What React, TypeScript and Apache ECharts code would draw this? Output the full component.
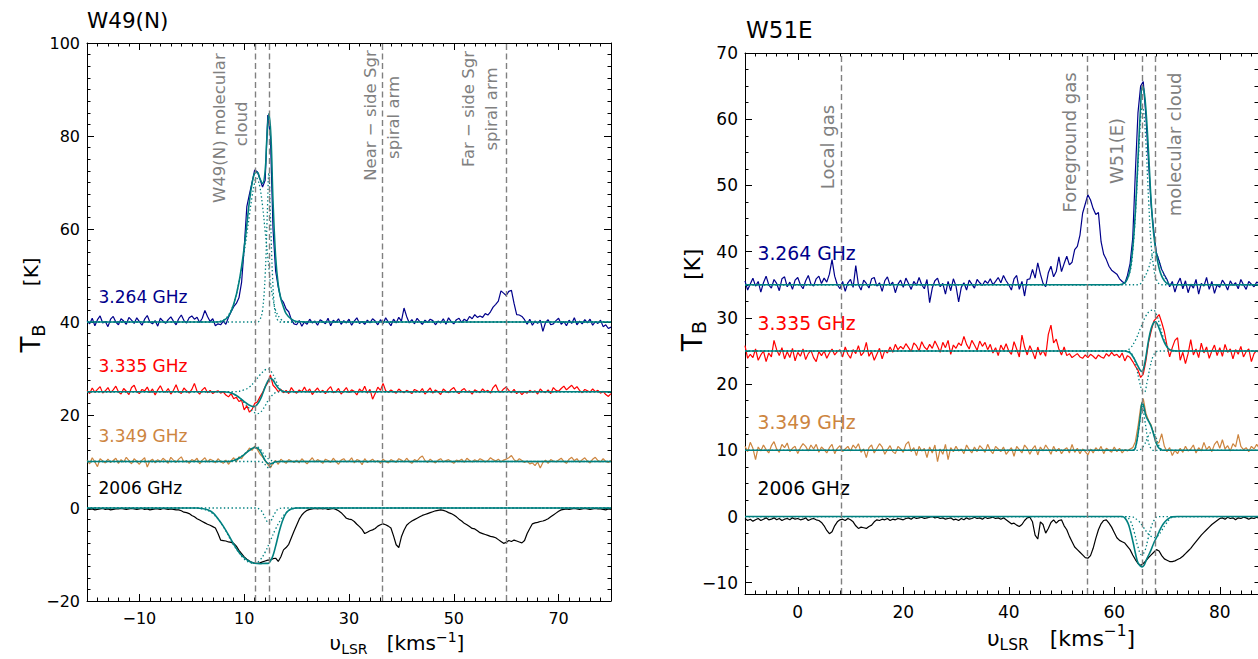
import React, { useEffect, useRef } from 'react';
import * as echarts from 'echarts';

const FONT = 'DejaVu Sans, sans-serif';
const C264 = '#00008b';
const C335 = '#ff0000';
const C349 = '#cd853f';
const C2006 = '#000000';
const TEAL = '#008080';
const GRAY = '#808080';

// ---------------- W49(N) panel ----------------
const W49_V_START = -20;
const W49_V_STEP = 0.5;
const w49_3264 = [
  40.3, 39.6, 40.8, 39.2, 40.5, 41.3, 39.8, 40.1, 39.0, 40.6,
  41.2, 40.0, 39.4, 40.7, 40.2, 39.5, 41.0, 40.4, 39.7, 40.9,
  40.1, 39.3, 40.6, 41.4, 40.0, 39.6, 40.3, 39.1, 40.8, 40.2,
  39.7, 40.5, 41.1, 40.2, 39.4, 40.7, 41.5, 40.3, 39.8, 40.9,
  41.3, 40.6, 41.0, 39.9, 40.8, 42.5, 41.2, 40.1, 40.7, 39.2,
  39.6, 39.4, 40.2, 39.5, 41.0, 42.2, 43.3, 44.0, 45.2, 48.5,
  56.0, 64.8, 67.5, 70.0, 72.7, 72.3, 70.8, 69.0, 70.5, 84.5,
  80.0, 60.0, 51.0, 47.5, 45.0, 44.2, 42.8, 42.2, 40.5, 39.6,
  39.4, 40.3, 39.1, 40.0, 39.5, 40.6, 39.8, 40.2, 39.3, 40.5,
  40.1, 39.6, 40.8, 39.2, 40.4, 39.9, 40.7, 39.5, 40.3, 39.8,
  40.6, 39.3, 40.2, 40.9, 39.7, 40.1, 39.5, 40.4, 39.8, 40.7,
  40.2, 39.4, 40.5, 39.6, 40.9, 40.0, 39.2, 40.6, 39.8, 41.0,
  40.2, 43.0, 41.2, 39.8, 40.5, 39.6, 40.8, 40.1, 39.5, 40.4,
  39.9, 40.6, 40.3, 39.4, 40.2, 39.8, 40.7, 39.5, 40.9, 40.1,
  39.6, 40.5, 40.8, 39.9, 40.6, 40.2, 41.2, 40.7, 41.6, 41.0,
  41.3, 41.0, 41.8, 41.5, 42.2, 43.2, 43.8, 44.5, 46.7, 46.2,
  45.7, 46.6, 46.8, 44.0, 41.6, 41.5, 41.2, 40.5, 39.5, 40.6,
  39.3, 40.2, 39.7, 40.4, 38.0, 39.9, 40.5, 39.4, 39.6, 40.3,
  40.8, 39.5, 40.1, 39.2, 40.4, 39.7, 40.9, 39.4, 40.2, 39.6,
  40.5, 39.8, 40.6, 39.3, 40.1, 39.7, 40.4, 39.0, 39.4, 38.6,
  38.9,
];
const w49_3335 = [
  25.3, 24.6, 25.8, 24.9, 25.5, 26.1, 24.7, 25.2, 25.9, 24.8,
  25.4, 26.2, 25.0, 24.5, 25.7, 25.1, 24.4, 25.9, 26.4, 25.0,
  24.6, 25.5, 25.2, 26.0, 24.8, 25.6, 24.3, 25.4, 26.3, 25.1,
  24.9, 25.7, 24.5, 25.3, 26.5, 25.0, 24.6, 25.8, 25.2, 24.7,
  25.5, 26.8, 25.1, 24.5, 25.4, 25.9, 24.8, 25.3, 24.6, 25.0,
  25.2, 24.7, 25.0, 24.3, 23.9, 24.6, 23.5, 23.8, 22.9, 23.2,
  21.1, 22.0, 20.6, 21.2, 22.5, 22.8, 23.9, 24.8, 26.1, 26.9,
  28.6, 26.4, 25.8, 25.0, 25.5, 24.8, 25.3, 24.6, 25.9, 25.1,
  24.7, 25.4, 25.0, 26.0, 24.9, 25.6, 24.4, 25.2, 25.8, 24.9,
  25.3, 24.6, 25.5, 26.1, 24.8, 25.0, 25.7, 24.5, 25.2, 25.9,
  24.8, 25.4, 25.1, 24.3, 25.6, 25.0, 26.2, 24.7, 25.5, 23.4,
  24.6, 26.0, 25.3, 26.8, 25.2, 24.9, 25.4, 25.0, 24.7, 25.6,
  25.1, 24.8, 25.3, 25.0, 24.6, 25.5, 25.2, 24.9, 25.7, 24.5,
  25.2, 25.8, 24.7, 25.4, 25.0, 24.4, 25.6, 25.1, 24.8, 25.5,
  25.9, 25.0, 24.6, 25.3, 25.7, 24.9, 25.2, 24.5, 25.4, 25.1,
  24.8, 25.6, 25.0, 25.3, 24.7, 25.9, 26.5, 25.2, 24.9, 25.6,
  26.0, 25.3, 24.8, 25.5, 24.6, 25.1, 24.4, 25.0, 24.7, 25.3,
  24.9, 25.2, 24.5, 25.6, 25.0, 24.8, 25.4, 24.6, 25.9, 25.3,
  25.1, 25.7, 26.2, 25.4, 25.9, 26.4, 25.6, 26.1, 25.3, 24.8,
  25.5, 25.2, 24.9, 25.6, 25.0, 25.3, 24.7, 25.1, 24.4, 24.0,
  24.6,
];
const w49_3349 = [
  10.3, 9.5, 10.8, 9.9, 8.9, 10.6, 10.1, 9.7, 10.5, 9.8,
  10.2, 10.7, 9.6, 10.4, 9.9, 10.9, 10.2, 9.5, 10.6, 10.0,
  9.4, 10.3, 10.8, 8.8, 10.1, 10.5, 9.7, 10.4, 9.9, 10.7,
  10.2, 9.6, 10.9, 10.3, 9.8, 10.5, 11.0, 9.9, 10.2, 9.6,
  10.4, 10.1, 10.7, 9.5, 10.3, 10.8, 9.9, 10.5, 10.2, 9.7,
  10.6, 10.0, 9.6, 10.3, 9.4, 10.2, 10.8, 9.9, 11.0, 10.6,
  11.5, 12.0, 12.9, 12.4, 13.3, 12.6, 11.6, 11.0, 10.2, 9.4,
  8.6, 9.7, 10.2, 9.4, 10.5, 10.0, 9.6, 10.4, 10.1, 9.8,
  10.3, 9.7, 10.6, 10.0, 9.5, 10.2, 10.8, 9.9, 10.4, 10.1,
  9.6, 10.5, 10.2, 9.8, 10.7, 10.0, 9.4, 10.3, 10.6, 9.9,
  10.1, 10.8, 9.7, 10.4, 10.2, 9.3, 10.6, 9.8, 10.1, 10.5,
  9.9, 10.2, 9.6, 10.5, 10.0, 9.7, 10.4, 10.1, 9.8, 10.6,
  10.3, 9.9, 10.7, 10.0, 9.6, 10.4, 10.1, 10.8, 11.2, 10.2,
  9.8, 10.5, 10.0, 9.7, 10.3, 10.6, 9.9, 10.2, 10.4, 10.0,
  9.6, 10.3, 10.1, 10.5, 9.8, 10.7, 10.2, 9.9, 10.4, 10.0,
  10.6, 10.3, 9.9, 10.2, 10.8, 10.4, 10.1, 10.5, 9.9, 10.3,
  10.5, 10.8, 11.3, 10.4, 10.0, 10.6, 10.2, 9.8, 10.1, 9.5,
  9.7, 9.1, 9.9, 8.6, 9.8, 10.3, 9.6, 10.4, 10.1, 9.9,
  10.3, 10.7, 10.0, 9.6, 10.5, 10.9, 10.2, 10.6, 9.8, 10.4,
  10.8, 10.1, 9.7, 10.5, 10.9, 10.2, 9.9, 10.6, 10.0, 9.8,
  10.3,
];
const w49_2006 = [
  -0.2, -0.3, -0.2, -0.4, -0.3, -0.2, -0.1, -0.3, -0.2, -0.4,
  -0.3, -0.2, -0.2, -0.1, -0.2, -0.3, -0.2, -0.1, -0.2, -0.3,
  -0.2, -0.1, -0.3, -0.2, -0.4, -0.3, -0.2, -0.2, -0.3, -0.1,
  -0.2, -0.3, -0.2, -0.3, -0.4, -0.4, -0.6, -0.9, -1.0, -1.2,
  -1.6, -1.9, -2.3, -2.6, -2.9, -3.2, -3.5, -3.7, -4.0, -4.3,
  -5.5, -6.9, -7.0, -7.1, -7.3, -7.4, -7.6, -8.2, -9.1, -9.8,
  -10.5, -11.0, -11.4, -11.7, -11.9, -11.9, -11.8, -11.6, -11.4, -11.2,
  -11.2, -10.9, -10.8, -11.5, -10.5, -9.0, -8.5, -7.8, -6.4, -5.0,
  -3.7, -2.4, -1.5, -0.9, -0.5, -0.3, -0.2, -0.1, -0.2, -0.1,
  -0.2, -0.1, -0.3, -0.2, -0.1, -0.3, -0.6, -1.0, -1.6, -2.2,
  -2.4, -2.5, -2.9, -3.5, -4.0, -4.6, -5.5, -5.2, -4.9, -4.7,
  -4.4, -3.9, -3.6, -3.4, -3.6, -3.9, -4.3, -6.0, -7.9, -8.5,
  -6.2, -4.8, -3.7, -3.2, -2.8, -2.5, -2.2, -1.9, -1.6, -1.4,
  -1.2, -1.0, -0.8, -0.6, -0.5, -0.4, -0.5, -0.7, -1.0, -1.2,
  -1.5, -1.9, -2.4, -2.8, -3.3, -3.6, -4.0, -4.4, -4.5, -4.9,
  -5.3, -5.5, -5.7, -5.9, -6.1, -6.2, -6.4, -6.8, -7.2, -7.6,
  -7.4, -7.0, -7.2, -6.9, -7.1, -7.3, -7.5, -7.0, -5.5, -4.4,
  -3.4, -3.2, -3.1, -2.9, -2.8, -2.6, -2.3, -1.9, -1.5, -1.1,
  -0.7, -0.4, -0.3, -0.2, -0.3, -0.2, -0.1, -0.2, -0.3, -0.2,
  -0.1, -0.2, -0.3, -0.2, -0.1, -0.2, -0.2, -0.3, -0.4, -0.2,
  -0.3,
];
// fitted profiles [v, T]
const w49Fit3264 = [[-20, 40], [5, 40], [6, 40.3], [7, 41.2], [8, 43.8], [9, 48.5], [10, 56], [11, 66], [11.5, 69.8], [12, 72], [12.5, 72.2], [13, 70.8], [13.5, 69.8], [14, 72.5], [14.3, 79], [14.7, 84.8], [15.1, 80], [15.5, 66], [16, 54], [16.5, 48], [17, 45], [17.5, 43.2], [18, 41.8], [19, 40.6], [20, 40.1], [22, 40], [80, 40]];
const w49Comp3264a = [[-20, 40], [4, 40], [6, 40.4], [7, 41.5], [8, 44], [9, 48.5], [10, 55], [11, 63], [11.5, 67], [12, 70], [12.3, 71], [12.6, 70.6], [13, 69], [13.5, 65], [14, 59.5], [14.5, 54], [15, 48.5], [15.5, 45], [16, 42.5], [17, 40.6], [18, 40], [80, 40]];
const w49Comp3264b = [[-20, 40], [12.5, 40], [13, 40.5], [13.5, 42.5], [14, 50], [14.4, 63], [14.7, 72], [15, 63], [15.4, 50], [15.8, 43], [16.3, 40.6], [17, 40], [80, 40]];
const w49Fit3335 = [[-20, 25], [6, 25], [7, 24.9], [8, 24.5], [9, 23.8], [10, 22.9], [11, 22.1], [11.8, 21.8], [12.5, 22.3], [13, 23.2], [13.5, 24.5], [14, 26], [14.5, 27.3], [15, 27.9], [15.5, 27.5], [16, 26.6], [16.5, 25.8], [17, 25.3], [17.5, 25.05], [18, 25], [80, 25]];
const w49Comp3335a = [[-20, 25], [8, 25], [10, 25.4], [11, 26], [12, 27.2], [13, 28.6], [14, 29.7], [14.6, 29.9], [15.2, 29.3], [16, 27.5], [16.5, 26.2], [17, 25.4], [17.5, 25.1], [18, 25], [80, 25]];
const w49Comp3335b = [[-20, 25], [7, 25], [8, 24.5], [9, 23.8], [10, 22.6], [11, 21.4], [12, 20.5], [12.5, 20.3], [13, 20.5], [13.5, 21.1], [14, 22], [14.5, 23], [15, 23.8], [15.5, 24.4], [16, 24.8], [17, 25], [80, 25]];
const w49Fit3349 = [[-20, 10], [7, 10], [8, 10.2], [9, 10.7], [10, 11.5], [11, 12.4], [12, 13.0], [12.5, 12.9], [13, 12.3], [13.5, 11.3], [14, 10.2], [14.5, 9.6], [15, 9.5], [15.5, 9.7], [16, 9.95], [17, 10], [80, 10]];
const w49Comp3349a = [[-20, 10], [7, 10], [8, 10.3], [9, 10.8], [10, 11.6], [11, 12.5], [12, 13.1], [12.6, 13.1], [13.2, 12.5], [14, 11.2], [15, 10.3], [16, 10], [80, 10]];
const w49Comp3349b = [[-20, 10], [13, 10], [13.6, 9.8], [14.2, 9.1], [14.7, 8.6], [15.2, 9.1], [15.8, 9.8], [16.4, 10], [80, 10]];
const w49Fit2006 = [[-20, 0], [1, 0], [2, -0.1], [3, -0.4], [4, -1], [5, -2.3], [6, -3.9], [7, -5.8], [8, -7.8], [9, -9.5], [10, -10.7], [11, -11.5], [12, -11.9], [13, -12], [14, -11.9], [14.6, -11.9], [15, -11.4], [15.5, -10.2], [16, -8.2], [16.5, -5.9], [17, -3.8], [17.5, -2.2], [18, -1.1], [18.5, -0.5], [19, -0.2], [20, 0], [80, 0]];
const w49Comp2006a = [[-20, 0], [0, 0], [2, -0.2], [4, -1.2], [6, -4], [8, -8], [10, -11], [11, -11.7], [12, -11.9], [13, -11.2], [14, -9.5], [15, -7], [16, -4.5], [17, -2.5], [18, -1], [19, -0.3], [20, 0], [80, 0]];
const w49Comp2006b = [[-20, 0], [12, 0], [13, -0.3], [13.6, -1.2], [14.2, -2.6], [14.7, -3.3], [15.2, -2.6], [15.8, -1.2], [16.4, -0.3], [17.5, 0], [80, 0]];
const w49Markers = [12.05, 14.7, 36.4, 60];
const w49XMajor = [-10, 10, 30, 50, 70];
const w49YMajor = [-20, 0, 20, 40, 60, 80, 100];
const w49Notes = [
  { text: 'W49(N) molecular', v: 5.35, t: 81.7 },
  { text: 'cloud', v: 9.4, t: 82.6 },
  { text: 'Near \u2212 side Sgr', v: 34.1, t: 84.4 },
  { text: 'spiral arm', v: 38.45, t: 84.0 },
  { text: 'Far \u2212 side Sgr', v: 52.8, t: 85.8 },
  { text: 'spiral arm', v: 57.2, t: 85.8 },
];
const w49Labels = [
  { text: '3.264 GHz', color: C264, v: -17.8, t: 45.4 },
  { text: '3.335 GHz', color: C335, v: -17.8, t: 30.5 },
  { text: '3.349 GHz', color: C349, v: -17.8, t: 15.5 },
  { text: '2006 GHz', color: C2006, v: -17.8, t: 4.2 },
];

// ---------------- W51E panel ----------------
const W51_V_START = -10;
const W51_V_STEP = 0.5;
const w51_3264 = [
  35.6, 34.2, 35.1, 36.0, 34.8, 35.5, 33.9, 35.3, 36.3, 35.0,
  34.5, 35.8, 35.2, 34.1, 35.9, 36.2, 34.7, 35.4, 34.3, 35.7,
  36.1, 35.0, 34.4, 35.6, 36.4, 35.1, 34.8, 35.9, 36.3, 35.2,
  36.0, 35.4, 36.6, 38.8, 36.3, 35.0, 34.4, 35.5, 34.0, 35.3,
  35.8, 34.6, 37.9, 35.0, 34.2, 35.7, 35.2, 34.5, 35.9, 36.1,
  34.8, 35.3, 34.0, 35.6, 36.2, 34.9, 35.4, 33.8, 35.1, 35.7,
  34.6, 36.0, 35.2, 34.3, 35.5, 34.9, 36.1, 35.0, 34.4, 35.8,
  32.3, 34.5, 35.6, 36.0, 34.7, 35.2, 33.6, 35.5, 34.1, 35.9,
  34.8, 32.4, 34.6, 35.3, 34.2, 35.7, 35.1, 34.5, 35.8, 35.3,
  34.9, 35.6, 35.2, 35.9, 35.0, 35.5, 36.1, 35.3, 36.4, 35.6,
  35.0, 34.2, 35.9, 36.4, 34.3, 35.5, 33.3, 35.8, 35.9, 37.3,
  36.0, 38.3, 36.6, 35.2, 34.7, 36.8, 37.8, 36.2, 37.0, 39.2,
  37.0, 38.2, 39.3, 38.0, 38.4, 40.3, 40.8, 42.5, 45.8, 47.2,
  48.6, 47.8, 46.5, 45.6, 45.9, 41.5, 39.6, 38.8, 37.8, 37.2,
  36.9, 36.6, 35.9, 35.5, 35.2, 36.4, 38.2, 42.0, 52.0, 61.0,
  65.0, 65.7, 60.5, 53.5, 47.0, 43.0, 39.8, 38.6, 37.3, 36.5,
  35.8, 34.7, 35.5, 33.9, 35.2, 36.0, 34.4, 35.6, 33.8, 35.1,
  34.5, 35.8, 33.6, 35.2, 34.8, 36.1, 34.3, 35.5, 33.7, 35.0,
  34.6, 35.7, 35.1, 34.2, 35.6, 34.9, 35.3, 34.4, 35.8, 35.0,
  34.3, 35.5, 35.1, 34.7, 35.4, 35.2,
];
const w51_3335 = [
  25.8, 23.9, 24.5, 24.0, 25.3, 23.6, 24.4, 25.0, 23.4, 24.7,
  24.1, 26.6, 25.2, 24.3, 25.5, 23.8, 24.9, 24.0, 25.4, 23.5,
  24.8, 24.2, 25.3, 23.7, 24.6, 25.1, 24.0, 23.4, 24.9, 24.3,
  25.0, 23.9, 24.7, 25.3, 24.4, 24.9, 25.2, 24.1, 25.6, 24.5,
  23.9, 25.2, 24.6, 25.8, 24.3, 24.8, 26.3, 24.2, 24.9, 23.6,
  24.5, 25.4, 23.8, 25.1, 24.7, 25.6, 24.8, 26.0, 25.2, 25.7,
  25.3, 26.1, 25.5, 24.9, 26.2, 25.8, 25.0, 26.4, 25.6, 25.2,
  26.0, 25.4, 26.5, 25.7, 24.8, 26.3, 25.5, 26.6, 24.5, 25.9,
  25.4, 26.2, 25.8, 27.2, 26.0, 25.3, 26.6, 25.9, 25.1, 26.5,
  25.7, 26.3, 25.2, 26.0, 24.7, 25.5, 24.3, 25.9, 25.1, 26.1,
  25.0, 24.5, 26.4, 25.3, 24.1, 27.4, 25.6, 24.4, 25.8, 24.9,
  23.8, 25.6, 24.4, 25.1, 24.2, 27.5, 28.9, 26.2, 26.8, 25.3,
  24.4, 25.6, 24.3, 24.6, 24.0, 24.3, 24.6, 24.1, 23.9, 24.4,
  24.0, 24.5, 24.2, 23.8, 24.4, 24.1, 23.9, 24.6, 24.2, 24.8,
  24.3, 24.5, 24.0, 24.7, 23.5, 24.3, 24.0, 23.4, 22.7, 22.1,
  21.0, 21.5, 23.5, 26.3, 28.0, 29.5, 30.0, 30.5, 29.3, 27.9,
  25.8, 24.1, 25.5, 26.6, 27.0, 23.6, 24.8, 23.1, 24.6, 26.7,
  24.4, 25.3, 24.0, 26.2, 24.7, 25.6, 23.9, 25.0, 25.9, 24.3,
  25.5, 24.2, 26.0, 24.8, 25.3, 23.8, 25.2, 24.5, 25.7, 24.1,
  24.9, 25.3, 23.4, 24.6, 25.1, 24.7,
];
const w51_3349 = [
  10.6, 9.8, 11.2, 10.3, 8.6, 10.5, 9.9, 10.8, 10.1, 9.6,
  10.7, 11.3, 10.2, 9.7, 10.9, 10.4, 11.1, 9.8, 10.3, 10.6,
  9.5, 10.4, 11.0, 10.6, 9.9, 10.8, 10.2, 10.9, 9.7, 10.5,
  10.1, 9.6, 10.4, 10.9, 9.5, 10.3, 10.7, 9.8, 10.2, 10.6,
  9.9, 10.8, 10.3, 11.0, 9.7, 10.2, 8.9, 10.4, 10.8, 9.6,
  10.3, 11.0, 10.5, 9.4, 10.1, 10.7, 9.8, 9.5, 10.6, 10.2,
  9.7, 10.9, 11.3, 9.8, 10.4, 9.2, 10.6, 9.9, 10.3, 8.9,
  10.5, 9.6, 10.8, 8.3, 10.2, 9.4, 10.9, 8.6, 10.4, 9.8,
  10.6, 9.9, 10.2, 9.5, 10.8, 10.1, 9.6, 10.5, 9.8, 10.7,
  10.3, 9.7, 10.9, 10.0, 9.5, 10.6, 10.2, 9.8, 10.5, 9.4,
  9.9, 10.4, 9.1, 10.6, 10.1, 9.6, 10.8, 10.3, 9.4, 10.2,
  10.7, 9.3, 10.5, 9.9, 10.8, 10.2, 9.4, 10.6, 9.8, 10.3,
  9.5, 10.1, 10.4, 9.6, 10.9, 9.7, 10.3, 9.5, 10.2, 9.8,
  9.3, 10.2, 9.6, 10.4, 9.9, 10.6, 9.5, 10.3, 10.0, 9.7,
  10.5, 9.8, 10.3, 9.6, 10.1, 9.9, 10.2, 10.4, 11.3, 13.6,
  16.5, 17.8, 15.6, 14.5, 13.8, 12.4, 11.0, 11.2, 12.5, 10.6,
  9.8, 10.4, 9.2, 10.0, 9.5, 10.3, 9.7, 10.6, 9.9, 10.2,
  10.8, 9.6, 10.4, 9.9, 11.2, 10.1, 10.6, 9.8, 10.9, 11.4,
  10.3, 11.6, 10.2, 10.7, 9.9, 11.0, 10.5, 12.4, 10.6, 10.1,
  10.4, 9.8, 10.6, 10.2, 10.9, 10.3,
];
const w51_2006 = [
  -0.3, -0.6, -0.4, -0.7, -0.5, -0.3, -0.6, -0.4, -0.2, -0.5,
  -0.4, -0.2, -0.5, -0.3, -0.6, -0.4, -0.3, -0.5, -0.2, -0.4,
  -0.3, -0.5, -0.4, -0.2, -0.6, -0.4, -0.3, -0.5, -0.6, -0.9,
  -1.4, -2.1, -2.6, -2.3, -1.4, -0.8, -0.5, -0.4, -0.6, -0.3,
  -0.5, -0.8, -1.4, -1.8, -1.6, -1.7, -1.8, -1.5, -1.3, -0.8,
  -0.5, -0.6, -0.4, -0.5, -0.3, -0.6, -0.4, -0.5, -0.3, -0.4,
  -0.5, -0.3, -0.2, -0.4, -0.1, -0.3, -0.2, -0.1, -0.3, -0.2,
  -0.1, 0.0, -0.2, -0.1, -0.3, -0.2, -0.4, -0.3, -0.2, -0.5,
  -0.4, -0.6, -0.3, -0.5, -0.2, -0.4, -0.3, -0.1, -0.3, -0.2,
  -0.4, -0.1, -0.3, -0.2, -0.1, -0.3, -0.2, -0.4, -0.2, -0.5,
  -0.8, -1.1, -1.0, -1.3, -1.5, -1.2, -0.6, -0.2, -0.1, -0.8,
  -2.8, -3.4, -0.8, -1.2, -2.5, -1.8, -0.9, -0.5, -1.0, -0.6,
  -0.5, -1.4, -2.0, -3.0, -3.8, -4.6, -5.0, -5.4, -5.8, -6.2,
  -6.3, -5.9, -4.8, -3.3, -2.0, -1.1, -0.6, -0.5, -1.0, -1.6,
  -2.4, -3.2, -3.6, -3.8, -4.0, -4.5, -5.0, -5.8, -6.5, -7.1,
  -7.4, -7.1, -6.7, -6.2, -5.8, -5.4, -5.0, -5.2, -5.9, -6.4,
  -6.6, -6.8, -6.8, -6.7, -6.5, -6.3, -6.0, -5.6, -5.2, -4.8,
  -4.3, -3.8, -3.3, -2.8, -2.4, -2.0, -1.6, -1.2, -0.9, -0.6,
  -0.3, -0.2, -0.4, -0.1, -0.3, -0.2, -0.5, -0.2, -0.3, -0.1,
  -0.2, -0.4, -0.2, -0.3, -0.1, -0.3,
];
const w51Fit3264 = [[-10, 35], [61, 35], [62, 35.3], [62.5, 35.9], [63, 37.3], [63.5, 40.5], [64, 46], [64.5, 54], [65, 62], [65.3, 65], [65.6, 64.5], [66, 61.5], [66.5, 55], [67, 47.5], [67.5, 42.5], [68, 39.5], [68.5, 37.5], [69, 36.3], [69.5, 35.6], [70, 35.2], [71, 35], [88, 35]];
const w51Comp3264a = [[-10, 35], [61, 35], [62, 35.3], [63, 37], [63.5, 40], [64, 45.5], [64.5, 53], [65, 60], [65.3, 62], [65.6, 61], [66, 56.5], [66.5, 48], [67, 41], [67.5, 37.5], [68, 35.8], [69, 35], [88, 35]];
const w51Comp3264b = [[-10, 35], [64.5, 35], [65.5, 35.8], [66.5, 37.5], [67.2, 39.5], [67.7, 40], [68.2, 39.4], [69, 37.3], [70, 35.6], [71, 35], [88, 35]];
const w51Fit3335 = [[-10, 25], [62, 25], [62.5, 24.9], [63, 24.7], [63.5, 24.2], [64, 23.5], [64.5, 22.7], [65, 22.0], [65.3, 21.9], [65.6, 22.5], [66, 24.1], [66.5, 26.6], [67, 28.4], [67.5, 29.3], [67.8, 29.4], [68.2, 29.0], [68.6, 28.2], [69, 27.3], [69.5, 26.3], [70, 25.6], [70.5, 25.2], [71, 25.05], [72, 25], [88, 25]];
const w51Comp3335a = [[-10, 25], [62, 25], [63, 25.4], [64, 26.6], [65, 28.5], [66, 30.3], [66.7, 31], [67.4, 31.2], [68, 30.5], [68.6, 29], [69.3, 27], [70, 25.8], [70.5, 25.2], [71, 25], [88, 25]];
const w51Comp3335b = [[-10, 25], [62.5, 25], [63.5, 24.3], [64.2, 22.5], [64.8, 20.3], [65.3, 19], [65.7, 18.8], [66.2, 20.2], [66.8, 22.6], [67.4, 24.3], [68, 24.9], [68.5, 25], [88, 25]];
const w51Fit3349 = [[-10, 10], [63.5, 10], [64, 10.4], [64.5, 12.5], [65, 15.5], [65.3, 17.2], [65.6, 16.6], [66, 15.2], [66.5, 14.4], [67, 13.6], [67.5, 12.3], [68, 11], [68.5, 10.3], [69, 10.05], [69.5, 10], [88, 10]];
const w51Comp3349a = [[-10, 10], [63.5, 10], [64.2, 11], [64.8, 14], [65.3, 16.6], [65.8, 14.5], [66.4, 11.5], [67, 10.2], [67.5, 10], [88, 10]];
const w51Comp3349b = [[-10, 10], [64.5, 10], [65.5, 10.6], [66.5, 12.2], [67.2, 12.9], [67.8, 12.2], [68.4, 10.8], [69, 10.1], [69.5, 10], [88, 10]];
const w51Fit2006 = [[-10, 0], [61.5, 0], [62, -0.2], [62.6, -1], [63, -2], [63.6, -4], [64, -5.5], [64.5, -7], [65, -7.5], [65.3, -7.6], [65.7, -7.3], [66.1, -6.5], [66.6, -5.7], [67, -5], [67.5, -4], [68, -3.2], [68.5, -2.3], [69, -1.5], [69.5, -0.9], [70, -0.5], [70.5, -0.2], [71, -0.05], [72, 0], [88, 0]];
const w51Comp2006a = [[-10, 0], [62, 0], [63, -0.6], [63.8, -2.4], [64.5, -4.6], [65.2, -5.8], [65.8, -5.2], [66.4, -3.4], [67, -1.6], [67.6, -0.5], [68.3, 0], [88, 0]];
const w51Comp2006b = [[-10, 0], [63, 0], [64.5, -0.6], [65.5, -1.6], [66.5, -2.7], [67.2, -3.1], [67.7, -3.2], [68.3, -2.9], [69, -2.1], [69.8, -1.1], [70.5, -0.4], [71.5, 0], [88, 0]];
const w51Markers = [8.3, 54.8, 65.3, 67.7];
const w51XMajor = [0, 20, 40, 60, 80];
const w51YMajor = [-10, 0, 10, 20, 30, 40, 50, 60, 70];
const w51Notes = [
  { text: 'Local gas', v: 5.63, t: 55.8 },
  { text: 'Foreground gas', v: 51.6, t: 56.5 },
  { text: 'W51(E)', v: 60.5, t: 55.2 },
  { text: 'molecular cloud', v: 71.5, t: 56.2 },
];
const w51Labels = [
  { text: '3.264 GHz', color: C264, v: -7.64, t: 39.7 },
  { text: '3.335 GHz', color: C335, v: -7.64, t: 29.2 },
  { text: '3.349 GHz', color: C349, v: -7.64, t: 14.2 },
  { text: '2006 GHz', color: C2006, v: -7.64, t: 4.3 },
];

// ---------------- helpers ----------------
function steps(a: number, b: number, s: number) {
  const out: number[] = [];
  for (let i = 0; a + i * s <= b + 1e-9; i++) out.push(Math.round((a + i * s) * 1000) / 1000);
  return out;
}
function pairs(vals: number[], v0: number, dv: number) {
  return vals.map((t, i) => [v0 + i * dv, t]);
}
const minus = (v: number) => String(v).replace('-', '\u2212');

function xAxes(grid: number, min: number, max: number, major: number[], minor: number[], fs: number) {
  const base = { type: 'value', gridIndex: grid, min, max, splitLine: { show: false }, axisPointer: { show: false } };
  const line = { show: true, onZero: false, lineStyle: { color: '#000', width: 1 } };
  const noLine = { show: false, onZero: false };
  const tk = (vals: number[], len: number) => ({ show: true, inside: true, length: len, customValues: vals, lineStyle: { color: '#000', width: 1 } });
  return [
    { ...base, position: 'bottom', axisLine: line, axisTick: tk(major, 7), axisLabel: { show: true, customValues: major, color: '#000', fontSize: fs, fontFamily: FONT, margin: 9, formatter: minus } },
    { ...base, position: 'top', axisLine: line, axisTick: tk(major, 7), axisLabel: { show: false } },
    { ...base, position: 'bottom', axisLine: noLine, axisTick: tk(minor, 3.5), axisLabel: { show: false } },
    { ...base, position: 'top', axisLine: noLine, axisTick: tk(minor, 3.5), axisLabel: { show: false } },
  ];
}
function yAxes(grid: number, min: number, max: number, major: number[], minor: number[], fs: number, rightVisible: boolean) {
  const base = { type: 'value', gridIndex: grid, min, max, splitLine: { show: false }, axisPointer: { show: false } };
  const line = { show: true, onZero: false, lineStyle: { color: '#000', width: 1 } };
  const noLine = { show: false, onZero: false };
  const tk = (vals: number[], len: number, show = true) => ({ show, inside: true, length: len, customValues: vals, lineStyle: { color: '#000', width: 1 } });
  return [
    { ...base, position: 'left', axisLine: line, axisTick: tk(major, 7), axisLabel: { show: true, customValues: major, color: '#000', fontSize: fs, fontFamily: FONT, margin: 7, formatter: minus } },
    { ...base, position: 'right', axisLine: rightVisible ? line : noLine, axisTick: tk(major, 7, rightVisible), axisLabel: { show: false } },
    { ...base, position: 'left', axisLine: noLine, axisTick: tk(minor, 3.5), axisLabel: { show: false } },
    { ...base, position: 'right', axisLine: noLine, axisTick: tk(minor, 3.5), axisLabel: { show: false } },
  ];
}

function spec(data: number[][], color: string, ai: number) {
  return {
    type: 'line', xAxisIndex: ai, yAxisIndex: ai, data, symbol: 'none', showSymbol: false,
    clip: true, silent: true,
    lineStyle: { color, width: 1.2 },
  };
}
function fit(data: number[][], ai: number, dotted: boolean) {
  return {
    type: 'line', xAxisIndex: ai, yAxisIndex: ai, data, symbol: 'none', showSymbol: false,
    smooth: 0.4, clip: true, silent: true,
    lineStyle: dotted ? { color: TEAL, width: 1.3, type: [1.4, 2.4] } : { color: TEAL, width: 1.6 },
  };
}
function markers(vals: number[], ai: number) {
  return {
    type: 'line', xAxisIndex: ai, yAxisIndex: ai, data: [], symbol: 'none', silent: true,
    markLine: {
      silent: true, symbol: ['none', 'none'], animation: false, label: { show: false },
      lineStyle: { color: GRAY, type: [6, 3.5], width: 1.4 },
      data: vals.map((v) => ({ xAxis: v })),
    },
  };
}

function buildOption() {
  const L = (a: number[]) => pairs(a, W49_V_START, W49_V_STEP);
  const R = (a: number[]) => pairs(a, W51_V_START, W51_V_STEP);
  return {
    animation: false,
    grid: [
      { left: 87, right: 647, top: 43, bottom: 58, containLabel: false, outerBoundsMode: 'none' },
      { left: 745, right: 0, top: 53, bottom: 65, containLabel: false, outerBoundsMode: 'none' },
    ],
    xAxis: [
      ...xAxes(0, -20, 80, w49XMajor, steps(-20, 80, 2), 16),
      ...xAxes(1, -10, 87.25, w51XMajor, steps(-10, 86, 2), 17),
    ],
    yAxis: [
      ...yAxes(0, -20, 100, w49YMajor, steps(-20, 100, 2.5), 16, true),
      ...yAxes(1, -11.7, 70, w51YMajor, steps(-10, 70, 2.5), 17, false),
    ],
    series: [
      spec(L(w49_3264), C264, 0),
      spec(L(w49_3335), C335, 0),
      spec(L(w49_3349), C349, 0),
      spec(L(w49_2006), C2006, 0),
      fit(w49Comp3264a, 0, true), fit(w49Comp3264b, 0, true),
      fit(w49Comp3335a, 0, true), fit(w49Comp3335b, 0, true),
      fit(w49Comp3349a, 0, true), fit(w49Comp3349b, 0, true),
      fit(w49Comp2006a, 0, true), fit(w49Comp2006b, 0, true),
      fit(w49Fit3264, 0, false), fit(w49Fit3335, 0, false), fit(w49Fit3349, 0, false), fit(w49Fit2006, 0, false),
      markers(w49Markers, 0),

      spec(R(w51_3264), C264, 4),
      spec(R(w51_3335), C335, 4),
      spec(R(w51_3349), C349, 4),
      spec(R(w51_2006), C2006, 4),
      fit(w51Comp3264a, 4, true), fit(w51Comp3264b, 4, true),
      fit(w51Comp3335a, 4, true), fit(w51Comp3335b, 4, true),
      fit(w51Comp3349a, 4, true), fit(w51Comp3349b, 4, true),
      fit(w51Comp2006a, 4, true), fit(w51Comp2006b, 4, true),
      fit(w51Fit3264, 4, false), fit(w51Fit3335, 4, false), fit(w51Fit3349, 4, false), fit(w51Fit2006, 4, false),
      markers(w51Markers, 4),
    ],
  };
}

function buildGraphics(chart: any) {
  const px = (ai: number, v: number, t: number) => chart.convertToPixel({ xAxisIndex: ai, yAxisIndex: ai }, [v, t]) as number[];
  const g: any[] = [];
  const note = (ai: number, n: any, fs: number) => {
    const [x, y] = px(ai, n.v, n.t);
    g.push({ type: 'text', x, y, rotation: Math.PI / 2, silent: true, style: { text: n.text, fill: GRAY, fontSize: fs, fontFamily: FONT, align: 'center', verticalAlign: 'middle' } });
  };
  const label = (ai: number, l: any, fs: number) => {
    const [x, y] = px(ai, l.v, l.t);
    g.push({ type: 'text', x, y, silent: true, style: { text: l.text, fill: l.color, fontSize: fs, fontFamily: FONT, align: 'left', verticalAlign: 'middle' } });
  };
  w49Notes.forEach((n) => note(0, n, 16.5));
  w51Notes.forEach((n) => note(4, n, 18));
  w49Labels.forEach((l) => label(0, l, 17));
  w51Labels.forEach((l) => label(4, l, 18.8));

  // titles
  g.push({ type: 'text', x: 87, y: 20, silent: true, style: { text: 'W49(N)', fill: '#000', fontSize: 21.5, fontFamily: FONT, align: 'left', verticalAlign: 'middle' } });
  g.push({ type: 'text', x: 746, y: 30, silent: true, style: { text: 'W51E', fill: '#000', fontSize: 23, fontFamily: FONT, align: 'left', verticalAlign: 'middle' } });

  // axis titles
  const xl = (x: number, y: number, s: number) => ({
    type: 'text', x, y, silent: true,
    style: {
      text: '{a|\u03c5}{s|LSR}{a|   [kms}{p|\u22121}{a|]}', fill: '#000', fontFamily: FONT, align: 'center', verticalAlign: 'middle',
      rich: {
        a: { fontSize: 20 * s, lineHeight: 26 * s, fontFamily: FONT, fill: '#000' },
        s: { fontSize: 14 * s, verticalAlign: 'bottom', fontFamily: FONT, fill: '#000' },
        p: { fontSize: 14 * s, verticalAlign: 'top', fontFamily: FONT, fill: '#000' },
      },
    },
  });
  g.push(xl(397, 643, 1));
  g.push(xl(1061, 638, 1.1));
  const yl = (x: number, y: number, s: number) => ({
    type: 'text', x, y, rotation: Math.PI / 2, silent: true,
    style: {
      text: '{t|T}{b|B}{k|      [K]}', fill: '#000', fontFamily: FONT, align: 'center', verticalAlign: 'middle',
      rich: {
        t: { fontSize: 26 * s, lineHeight: 32 * s, fontFamily: FONT, fill: '#000' },
        b: { fontSize: 18 * s, verticalAlign: 'bottom', fontFamily: FONT, fill: '#000' },
        k: { fontSize: 20 * s, fontFamily: FONT, fill: '#000' },
      },
    },
  });
  g.push(yl(31, 305, 1));
  g.push(yl(692, 300, 1.08));
  return g;
}

export default function App() {
  const ref = useRef<HTMLDivElement>(null);
  useEffect(() => {
    document.body.style.margin = '0';
    const chart = echarts.init(ref.current!, null, { renderer: 'svg' });
    chart.setOption(buildOption() as any);
    chart.setOption({ graphic: buildGraphics(chart) } as any);
    return () => chart.dispose();
  }, []);
  return <div ref={ref} style={{ width: 1258, height: 659 }} />;
}
